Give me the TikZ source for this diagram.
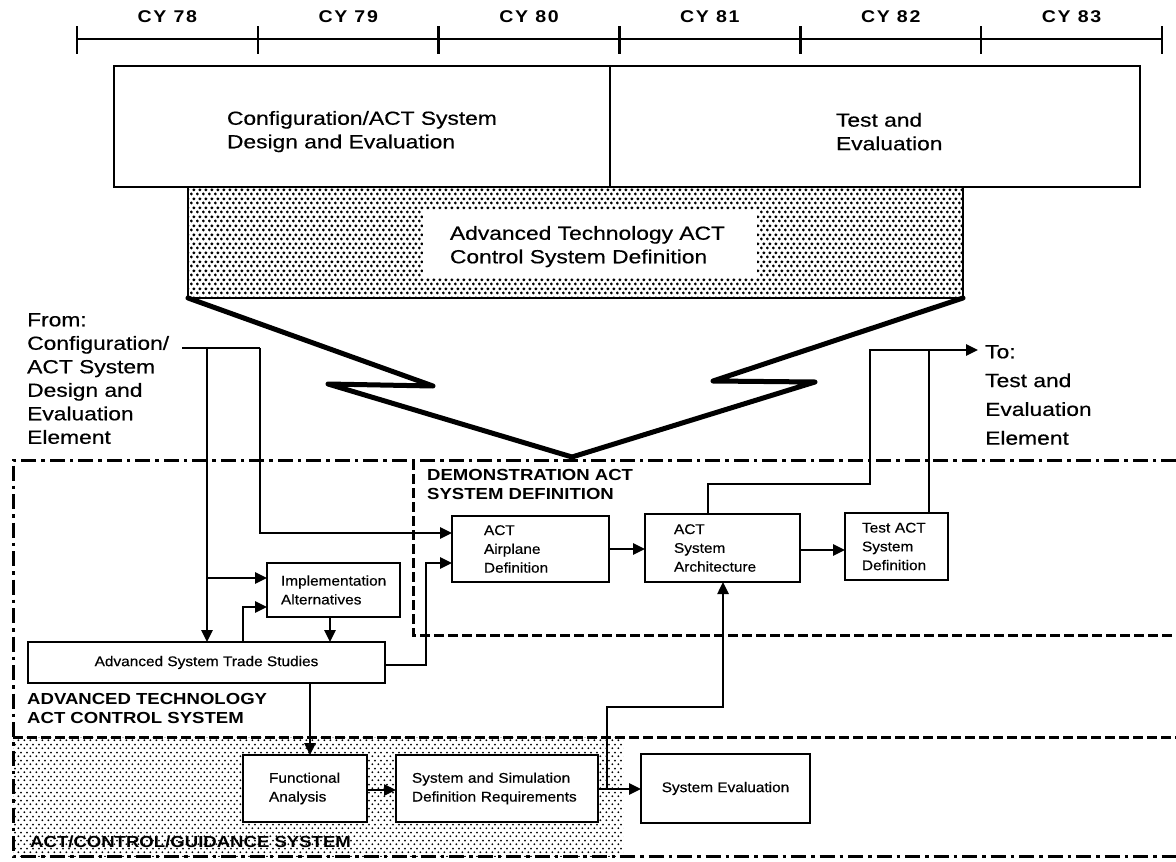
\documentclass[tikz,border=0pt]{standalone}
\usepackage{fontspec}
\setmainfont{Liberation Sans}[FakeStretch=1.2,FakeBold=0.5]
\newfontfamily\boxfont{Liberation Sans}[FakeStretch=1.1,FakeBold=0.4]
\newfontfamily\headfont{Liberation Sans}[FakeStretch=1.16]
\newfontfamily\yearfont{Liberation Sans}[FakeStretch=1.15,LetterSpace=10]
\usetikzlibrary{arrows.meta,patterns}

% staggered screen tints
\pgfdeclarepatternformonly{heavydots}{\pgfqpoint{0pt}{0pt}}{\pgfqpoint{5.6pt}{9pt}}{\pgfqpoint{5.6pt}{9pt}}{%
  \pgfpathcircle{\pgfqpoint{1.4pt}{2.25pt}}{1.7pt}%
  \pgfpathcircle{\pgfqpoint{4.2pt}{6.75pt}}{1.7pt}%
  \pgfusepath{fill}}
\pgfdeclarepatternformonly{lightdots}{\pgfqpoint{0pt}{0pt}}{\pgfqpoint{5.6pt}{8pt}}{\pgfqpoint{5.6pt}{8pt}}{%
  \pgfpathcircle{\pgfqpoint{1.4pt}{2pt}}{1.1pt}%
  \pgfpathcircle{\pgfqpoint{4.2pt}{6pt}}{1.1pt}%
  \pgfusepath{fill}}

% taller first line, pushes a centred block downwards
\newcommand{\lowerby}[1]{\rule{0pt}{#1}}

\begin{document}
\begin{tikzpicture}[x=1pt,y=-1pt,
  tl/.style={line width=2.6pt},
  yr/.style={font=\yearfont\bfseries\fontsize{17}{17}\selectfont, inner sep=0pt},
  frame/.style={draw, line width=2.2pt, outer sep=0pt, anchor=north west, inner ysep=0pt},
  bigtext/.style={font=\fontsize{19}{23.5}\selectfont},
  lead/.style={bigtext, inner sep=0pt, anchor=north west, align=left},
  grouplabel/.style={font=\headfont\bfseries\fontsize{16}{18.7}\selectfont, inner sep=0pt, anchor=north west, align=left},
  boxt/.style={draw, line width=2.2pt, fill=white, outer sep=0pt, anchor=north west, inner ysep=0pt,
    font=\boxfont\fontsize{14}{18.8}\selectfont},
  bolt/.style={line width=5pt, line join=round, line cap=round},
  dashdot/.style={line width=3pt, dash pattern=on 15pt off 5pt on 3.5pt off 5pt},
  dashb/.style={line width=3pt, dash pattern=on 10pt off 4pt},
  conn/.style={line width=2.5pt},
  arr/.style={conn, -{Triangle[length=12pt,width=11pt]}}
]
\useasboundingbox (0,0) rectangle (1176,862);

% ---- calendar scale ----
\draw[tl] (77,39) -- (1162,39);
\foreach \i in {0,...,6} \draw[tl] ({77+180.83*\i},26) -- ({77+180.83*\i},54);
\foreach \yy [count=\i from 0] in {78,...,83}
  \node[yr] (cy\yy) at ({167.4+180.83*\i},17) {CY \yy};

% ---- program elements ----
\node[frame, bigtext, minimum width=496pt, minimum height=121pt, text width=270pt, align=left]
  (cfgbox) at (114,66) {\lowerby{24pt}Configuration/ACT System\\Design and Evaluation};
\node[frame, bigtext, minimum width=530pt, minimum height=121pt, text width=78pt, align=left]
  (tebox) at (610,66) {\lowerby{24pt}\mbox{Test and}\\\mbox{Evaluation}};
\node[frame, pattern=heavydots, minimum width=775pt, minimum height=111pt]
  (shade) at (188,187) {};
\node[fill=white, outer sep=0pt, anchor=north west, bigtext, minimum width=334pt, minimum height=67pt,
  text width=280pt, inner ysep=0pt, align=left]
  (actdef) at (423,210) {\lowerby{20pt}Advanced Technology ACT\\Control System Definition};

% expansion bolt
\draw[bolt] (shade.south west) -- (433,386) -- (328,384) -- (572,457)
  -- (815,382) -- (713,381) -- (shade.south east);

% ---- region boundaries ----
\fill[pattern=lightdots] (13,737) rectangle (623,856);
\draw[dashdot] (1176,460) -- (13,460) -- (13,856) -- (1176,856);
\draw[dashb] (413,460) -- (413,635) -- (1176,635);
\draw[dashb] (13,737) -- (1176,737);

% ---- lead-in / lead-out texts ----
\node[lead] (from) at (27,313) {From:\\Configuration/\\ACT System\\Design and\\Evaluation\\Element};
\node[lead, font=\fontsize{19}{28.8}\selectfont] (to) at (985,345) {To:\\Test and\\Evaluation\\Element};

\node[grouplabel] (demo) at (427,469) {DEMONSTRATION ACT\\SYSTEM DEFINITION};
\node[grouplabel] (advtech) at (27,693) {ADVANCED TECHNOLOGY\\ACT CONTROL SYSTEM};
\node[grouplabel] (guid) at (30,836) {ACT/CONTROL/GUIDANCE SYSTEM};

% ---- task boxes ----
\node[boxt, minimum width=133pt, minimum height=54pt, text width=105pt, inner xsep=14pt, align=left]
  (impl) at (267,563) {Implementation\\Alternatives};
\node[boxt, minimum width=357pt, minimum height=41pt]
  (trade) at (28,642) {Advanced System Trade Studies};
\node[boxt, minimum width=157pt, minimum height=66pt, text width=93pt, inner xsep=32pt, align=left]
  (airdef) at (452,516) {ACT\\Airplane\\Definition};
\node[boxt, minimum width=155pt, minimum height=68pt, text width=97pt, inner xsep=29pt, align=left]
  (sysarch) at (645,514) {ACT\\System\\Architecture};
\node[boxt, minimum width=103pt, minimum height=67pt, text width=69pt, inner xsep=17pt, align=left]
  (testact) at (845,513) {Test ACT\\System\\Definition};
\node[boxt, minimum width=124pt, minimum height=67pt, text width=72pt, inner xsep=26pt, align=left]
  (fa) at (243,755) {Functional\\Analysis};
\node[boxt, minimum width=202pt, minimum height=67pt, text width=170pt, inner xsep=16pt, align=left]
  (ssdr) at (396,755) {System and Simulation\\Definition Requirements};
\node[boxt, minimum width=169pt, minimum height=69pt]
  (syseval) at (641,754) {System Evaluation};

% ---- flow ----
\coordinate (fromend) at (182,348);
\coordinate (split) at (207,348);
\coordinate (feed) at (260,348);
\coordinate (toend) at (978,350);
\coordinate (outjoin) at (929,350);
\coordinate (evaltap) at (607,789);

\draw[conn] (fromend) -- (feed);
\draw[arr] (feed) |- (airdef.west |- 0,533);
\draw[arr] (split) -- (split |- trade.north);
\draw[arr] (207,578) -- (impl.west |- 0,578);
\draw[arr] (trade.north -| 243,0) |- (impl.west |- 0,607);
\draw[arr] (impl.south -| 330,0) -- (trade.north -| 330,0);
\draw[arr] (trade.east |- 0,665) -| (426,600) |- (airdef.west |- 0,563);
\draw[arr] (airdef.east |- 0,549) -- (sysarch.west |- 0,549);
\draw[arr] (sysarch.east |- 0,550) -- (testact.west |- 0,550);
\draw[arr] (sysarch.north -| 708,0) |- (870,484) |- (toend);
\draw[conn] (testact.north -| outjoin) -- (outjoin);
\draw[arr] (trade.south -| 310,0) -- (fa.north -| 310,0);
\draw[arr] (fa.east |- 0,790) -- (ssdr.west |- 0,790);
\draw[arr] (ssdr.east |- evaltap) -- (syseval.west |- evaltap);
\draw[arr] (evaltap) |- (723,707) -- (sysarch.south -| 723,0);

\end{tikzpicture}
\end{document}
